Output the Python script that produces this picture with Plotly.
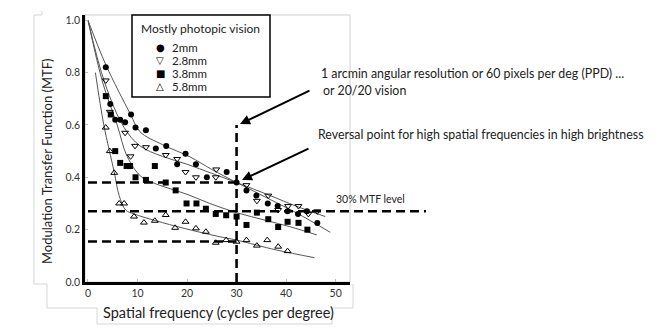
import plotly.graph_objects as go

f_2mm = [3.6, 4.5, 5.5, 6.5, 7.5, 8.7, 9.6, 11.7, 13.7, 15.8, 18, 19.7, 21.8, 24, 28, 30, 32, 34, 36.3, 38.3, 40.3, 42.4, 44.2, 46.3]
m_2mm = [0.82, 0.68, 0.62, 0.62, 0.61, 0.64, 0.59, 0.58, 0.51, 0.52, 0.45, 0.49, 0.45, 0.40, 0.42, 0.38, 0.35, 0.33, 0.30, 0.29, 0.27, 0.26, 0.27, 0.225]

f_28mm = [3.6, 4.4, 7.5, 8.6, 9.5, 11.7, 15.7, 18, 19.7, 21.8, 25.8, 25.9, 32, 34.1, 36.4, 38.4, 40.4, 42.5, 44.5, 46.3]
m_28mm = [0.77, 0.65, 0.57, 0.48, 0.52, 0.515, 0.485, 0.47, 0.42, 0.40, 0.40, 0.43, 0.37, 0.31, 0.33, 0.275, 0.29, 0.29, 0.26, 0.27]

f_38mm = [3.6, 4.6, 5.5, 6.5, 7.8, 8.5, 9.6, 11.7, 13.5, 15.7, 17.7, 19.9, 21.9, 23.8, 25.8, 27.9, 30, 32, 34.1, 36.4, 38.4, 40.3, 42.5, 44.3]
m_38mm = [0.71, 0.64, 0.50, 0.455, 0.443, 0.443, 0.40, 0.39, 0.443, 0.38, 0.35, 0.30, 0.30, 0.28, 0.26, 0.255, 0.25, 0.218, 0.265, 0.24, 0.21, 0.23, 0.226, 0.20]

f_58mm = [3.6, 4.4, 5.3, 6.3, 7.3, 9.3, 11.3, 13.5, 15.7, 17.6, 19.7, 21.8, 23.8, 25.8, 27.9, 30, 32, 34.1, 36.2, 38.4, 40.3]
m_58mm = [0.59, 0.50, 0.417, 0.30, 0.30, 0.25, 0.227, 0.234, 0.256, 0.207, 0.23, 0.205, 0.192, 0.15, 0.16, 0.154, 0.16, 0.139, 0.16, 0.135, 0.118]

# fitted curves
fit_2mm_x = [0, 3.6, 8.6, 10.5, 15, 20.6, 25, 30, 36.8, 42, 48.9]
fit_2mm_y = [1.0, 0.83, 0.64, 0.574, 0.525, 0.478, 0.43, 0.38, 0.315, 0.265, 0.19]
fit_28mm_x = [0, 3.4, 7.3, 10.5, 15, 20, 25, 30, 36.8, 42, 47.9]
fit_28mm_y = [1.0, 0.76, 0.59, 0.52, 0.48, 0.45, 0.415, 0.38, 0.33, 0.29, 0.25]
fit_38mm_x = [0, 3, 5.9, 7.9, 10.6, 13, 16, 20, 24.6, 30, 36, 41, 46.2]
fit_38mm_y = [1.0, 0.76, 0.60, 0.48, 0.405, 0.38, 0.36, 0.335, 0.30, 0.265, 0.235, 0.21, 0.18]
fit_58mm_x = [1.5, 3.2, 5.3, 6.3, 7.6, 9.3, 13.7, 19.4, 26.1, 30, 38.1, 45.7]
fit_58mm_y = [0.8, 0.6, 0.42, 0.33, 0.275, 0.26, 0.234, 0.205, 0.175, 0.16, 0.122, 0.093]

legend_names = ["2mm", "2.8mm", "3.8mm", "5.8mm"]
legend_glyphs = ["\u25CF", "\u25BD", "\u25A0", "\u25B3"]

# plot box in screen pixels; the page body adds an 8px offset
OFF = 8
L, R, T, B = 85, 350, 15, 282
W, H = R - L, B - T
FW, FH = 658 - OFF, 330 - OFF
def px(x):
    return (x - L) / W
def py(y):
    return (B - y) / H

FONT = "Lato"
TXT = "#222222"
fig = go.Figure()

for fx, fy in [(fit_2mm_x, fit_2mm_y), (fit_28mm_x, fit_28mm_y),
               (fit_38mm_x, fit_38mm_y), (fit_58mm_x, fit_58mm_y)]:
    fig.add_trace(go.Scatter(x=fx, y=fy, mode="lines", line_shape="spline",
                             line=dict(color="#555555", width=1), showlegend=False,
                             hoverinfo="skip"))

marker_styles = [
    (f_2mm, m_2mm, dict(symbol="circle", size=6, color="black")),
    (f_28mm, m_28mm, dict(symbol="triangle-down-open", size=6, color="black", line=dict(width=1))),
    (f_38mm, m_38mm, dict(symbol="square", size=6, color="black")),
    (f_58mm, m_58mm, dict(symbol="triangle-up-open", size=6, color="black", line=dict(width=1))),
]
for (fx, fy, mk), name in zip(marker_styles, legend_names):
    fig.add_trace(go.Scatter(x=fx, y=fy, mode="markers", marker=mk, name=name, showlegend=False))

shapes = []
# light frame around the plot area
shapes.append(dict(type="rect", xref="paper", yref="paper", x0=0, x1=1, y0=0, y1=1,
                   line=dict(color="#d0d0d0", width=1), layer="below"))
# outer page-like outline
outline = [(42, 11), (42, 15), (34, 15), (34, 284), (47, 284), (47, 308), (97, 308),
           (97, 324), (332, 324), (332, 308), (353, 308), (353, 284)]
path = "M " + " L ".join(f"{px(a):.4f},{py(b):.4f}" for a, b in outline)
shapes.append(dict(type="path", xref="paper", yref="paper", path=path,
                   line=dict(color="#d6d6d6", width=1)))
# dashed reference lines
dash = dict(color="black", width=2.6, dash="9px,5px")
shapes.append(dict(type="line", xref="x", yref="y", x0=30, x1=30, y0=0, y1=0.6, line=dash))
shapes.append(dict(type="line", xref="x", yref="y", x0=0, x1=30, y0=0.38, y1=0.38, line=dash))
shapes.append(dict(type="line", xref="x", yref="y", x0=0, x1=30, y0=0.155, y1=0.155, line=dash))
shapes.append(dict(type="line", xref="paper", yref="paper", x0=px(88), x1=px(426),
                   y0=0.27 / 1.02, y1=0.27 / 1.02, line=dash))
# legend box
shapes.append(dict(type="rect", xref="paper", yref="paper", x0=px(132), x1=px(270),
                   y0=py(97), y1=py(15), line=dict(color="black", width=1.5),
                   fillcolor="white"))

ann = []
ann.append(dict(xref="paper", yref="paper", x=px(200), y=py(28), text="Mostly photopic vision",
                showarrow=False, font=dict(size=12, color=TXT), xanchor="center", yanchor="middle"))
for i, (g, n) in enumerate(zip(legend_glyphs, legend_names)):
    yy = py(48 + 12.8 * i)
    ann.append(dict(xref="paper", yref="paper", x=px(160), y=yy, text=g, showarrow=False,
                    font=dict(size=10, color="black", family="DejaVu Sans"),
                    xanchor="center", yanchor="middle"))
    ann.append(dict(xref="paper", yref="paper", x=px(170), y=yy, text=n, showarrow=False,
                    font=dict(size=11.5, color=TXT), xanchor="left", yanchor="middle"))

ann.append(dict(xref="paper", yref="paper", x=px(319), y=py(73),
                text="1 arcmin angular resolution or 60 pixels per deg (PPD) ...",
                showarrow=False, font=dict(size=12.4, color=TXT), xanchor="left", yanchor="middle"))
ann.append(dict(xref="paper", yref="paper", x=px(321), y=py(90), text="or 20/20 vision",
                showarrow=False, font=dict(size=12.4, color=TXT), xanchor="left", yanchor="middle"))
ann.append(dict(xref="paper", yref="paper", x=px(316), y=py(134),
                text="Reversal point for high spatial frequencies in high brightness",
                showarrow=False, font=dict(size=12.4, color=TXT), xanchor="left", yanchor="middle"))
ann.append(dict(xref="paper", yref="paper", x=px(334), y=py(199), text="30% MTF level",
                showarrow=False, font=dict(size=10.5, color=TXT), xanchor="left", yanchor="middle"))
# arrows
ann.append(dict(xref="paper", yref="paper", x=px(240), y=py(124), text="", showarrow=True,
                ax=71, ay=-34, arrowhead=2, arrowsize=1, arrowwidth=2, arrowcolor="black"))
ann.append(dict(xref="paper", yref="paper", x=px(242), y=py(180), text="", showarrow=True,
                ax=68, ay=-32, arrowhead=2, arrowsize=1, arrowwidth=2, arrowcolor="black"))
# axis titles
ann.append(dict(xref="paper", yref="paper", x=px(47), y=py(161), text="Modulation Transfer Function (MTF)",
                textangle=-90, showarrow=False, font=dict(size=13, color=TXT),
                xanchor="center", yanchor="middle"))
ann.append(dict(xref="paper", yref="paper", x=px(218), y=py(312), text="Spatial frequency (cycles per degree)",
                showarrow=False, font=dict(size=14.5, color=TXT), xanchor="center", yanchor="middle"))

fig.update_layout(
    width=FW, height=FH,
    margin=dict(l=L - OFF, r=FW - (R - OFF), t=T - OFF, b=FH - (B - OFF)),
    paper_bgcolor="white", plot_bgcolor="white",
    font=dict(family=FONT, color="#333"),
    showlegend=False,
    shapes=shapes, annotations=ann,
    xaxis=dict(range=[-0.6, 52.9], tickvals=[0, 10, 20, 30, 40, 50], showgrid=False, zeroline=False,
               showline=True, linecolor="black", linewidth=2.5, ticks="inside", ticklen=3,
               tickcolor="#bbb", tickfont=dict(size=10.5, color="#333")),
    yaxis=dict(range=[0, 1.02], tickvals=[0, 0.2, 0.4, 0.6, 0.8, 1.0], tickformat=".1f",
               showgrid=False, zeroline=False, showline=True, linecolor="black", linewidth=2.5,
               ticks="inside", ticklen=3, tickcolor="#bbb", tickfont=dict(size=10.5, color="#333")),
)

fig.write_html("out.html")
